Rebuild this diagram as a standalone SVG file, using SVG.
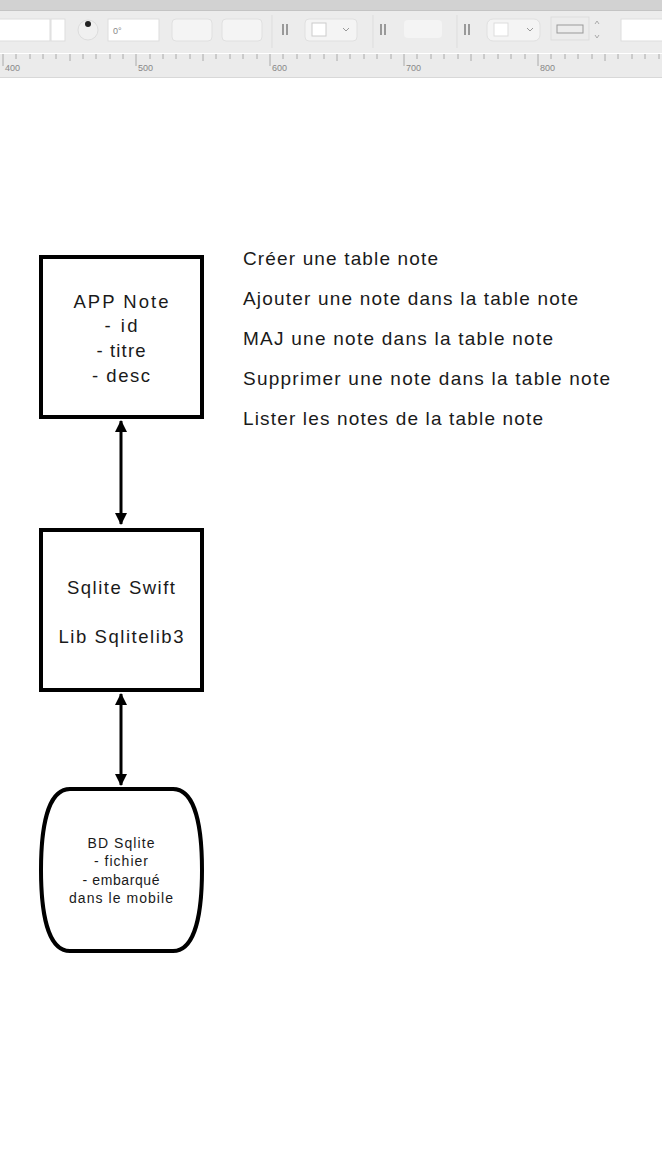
<svg xmlns="http://www.w3.org/2000/svg" width="662" height="1168" viewBox="0 0 662 1168">
<style>
.box{fill:#fff;stroke:#000;stroke-width:4}
.lbl{font-family:"Liberation Sans",Arial,sans-serif;fill:#1a1a1a;text-anchor:middle}
.side{font-family:"Liberation Sans",Arial,sans-serif;fill:#1a1a1a;font-size:19px}
.conn{stroke:#000;stroke-width:3;fill:none}
.field{fill:#fff;stroke:#ddd;stroke-width:1}
.btn{fill:#f4f4f4;stroke:#e0e0e0;stroke-width:1}
.ui{font-family:"Liberation Sans",Arial,sans-serif;fill:#888;font-size:9px}
</style>
<defs>
<marker id="ah" viewBox="0 0 12 16" refX="11" refY="6" markerWidth="12" markerHeight="16" markerUnits="userSpaceOnUse" orient="auto-start-reverse">
<path d="M0,0 L12,6 L0,12 Z" fill="#000"/>
</marker>
</defs>
<rect width="662" height="1168" fill="#fff"/>
<g id="toolbar">
<rect x="0" y="0" width="662" height="10" fill="#d2d2d2"/>
<rect x="0" y="10" width="662" height="43" fill="#ececec"/>
<line x1="0" y1="10.5" x2="662" y2="10.5" stroke="#c4c4c4"/>
<rect x="-2" y="19" width="52" height="22" class="field"/>
<rect x="51" y="19" width="14" height="22" class="field"/>
<circle cx="88" cy="30" r="10" fill="#f0f0f0" stroke="#ddd"/>
<circle cx="88" cy="24" r="3" fill="#222"/>
<rect x="108" y="19" width="51" height="22" class="field"/>
<text x="113" y="34" class="ui" font-size="10">0°</text>
<rect x="172" y="19" width="40" height="22" rx="4" class="btn"/>
<rect x="222" y="19" width="40" height="22" rx="4" class="btn"/>
<line x1="272" y1="15" x2="272" y2="48" stroke="#ddd"/>
<rect x="282" y="24" width="2" height="11" fill="#999"/><rect x="286" y="24" width="2" height="11" fill="#999"/>
<rect x="305" y="19" width="52" height="22" rx="4" class="btn"/>
<rect x="312" y="23" width="14" height="13" fill="#fff" stroke="#ccc"/>
<path d="M343,28 l3,3 l3,-3" stroke="#999" fill="none"/>
<line x1="373" y1="15" x2="373" y2="48" stroke="#ddd"/>
<rect x="380" y="24" width="2" height="11" fill="#999"/><rect x="384" y="24" width="2" height="11" fill="#999"/>
<rect x="404" y="20" width="38" height="18" rx="4" fill="#f4f4f4"/>
<line x1="457" y1="15" x2="457" y2="48" stroke="#ddd"/>
<rect x="464" y="24" width="2" height="11" fill="#999"/><rect x="468" y="24" width="2" height="11" fill="#999"/>
<rect x="487" y="19" width="53" height="22" rx="6" class="btn"/>
<rect x="494" y="23" width="14" height="13" fill="#fff" stroke="#ddd"/>
<path d="M527,28 l3,3 l3,-3" stroke="#999" fill="none"/>
<rect x="551" y="17" width="38" height="23" fill="#ececec" stroke="#ddd"/>
<rect x="557" y="25" width="26" height="8" fill="none" stroke="#999"/>
<path d="M595,24 l2,-3 l2,3 M595,35 l2,3 l2,-3" stroke="#aaa" fill="none"/>
<rect x="621" y="19" width="42" height="22" class="field"/>
</g>
<g id="ruler">
<rect x="0" y="53" width="662" height="25" fill="#ebebeb"/>
<line x1="0" y1="53.5" x2="662" y2="53.5" stroke="#fff" stroke-width="1"/>
<line x1="0" y1="77.5" x2="662" y2="77.5" stroke="#d8d8d8"/>
<path d="M3,54v12 M136,54v12 M270,54v12 M404,54v12 M538,54v12 M16,54v5 M30,54v5 M43,54v5 M56,54v5 M70,54v7 M83,54v5 M96,54v5 M110,54v5 M123,54v5 M150,54v5 M163,54v5 M176,54v5 M190,54v5 M203,54v7 M216,54v5 M230,54v5 M243,54v5 M257,54v5 M283,54v5 M297,54v5 M310,54v5 M324,54v5 M337,54v7 M350,54v5 M364,54v5 M377,54v5 M391,54v5 M417,54v5 M431,54v5 M444,54v5 M458,54v5 M471,54v7 M484,54v5 M498,54v5 M511,54v5 M525,54v5 M551,54v5 M565,54v5 M578,54v5 M592,54v5 M605,54v7 M618,54v5 M632,54v5 M645,54v5 M659,54v5" stroke="#aaa" stroke-width="1" fill="none"/>
<text x="5" y="71" class="ui">400</text>
<text x="138" y="71" class="ui">500</text>
<text x="272" y="71" class="ui">600</text>
<text x="406" y="71" class="ui">700</text>
<text x="540" y="71" class="ui">800</text>
</g>
<g id="connectors">
<line x1="121" y1="421" x2="121" y2="524" class="conn" marker-start="url(#ah)" marker-end="url(#ah)"/>
<line x1="121" y1="694" x2="121" y2="785" class="conn" marker-start="url(#ah)" marker-end="url(#ah)"/>
</g>
<g id="app-note">
<rect x="41" y="257" width="161" height="160" class="box"/>
<text class="lbl" font-size="18.5" x="121" y="308" textLength="95" lengthAdjust="spacing">APP Note</text>
<text class="lbl" font-size="18.5" x="121" y="332" textLength="33" lengthAdjust="spacing">- id</text>
<text class="lbl" font-size="18.5" x="121" y="357" textLength="49" lengthAdjust="spacing">- titre</text>
<text class="lbl" font-size="18.5" x="121" y="382" textLength="58" lengthAdjust="spacing">- desc</text>
</g>
<g id="sqlite-swift">
<rect x="41" y="530" width="161" height="160" class="box"/>
<text class="lbl" font-size="18.5" x="121" y="594" textLength="108" lengthAdjust="spacing">Sqlite Swift</text>
<text class="lbl" font-size="18.5" x="121" y="643" textLength="125" lengthAdjust="spacing">Lib Sqlitelib3</text>
</g>
<g id="bd-sqlite">
<path d="M70,789 H173 C196,789 202,830 202,870 C202,910 196,951 173,951 H70 C47,951 41,910 41,870 C41,830 47,789 70,789 Z" class="box"/>
<text class="lbl" font-size="14" x="121" y="848" textLength="67" lengthAdjust="spacing">BD Sqlite</text>
<text class="lbl" font-size="14" x="121" y="866" textLength="54" lengthAdjust="spacing">- fichier</text>
<text class="lbl" font-size="14" x="121" y="885" textLength="77" lengthAdjust="spacing">- embarqué</text>
<text class="lbl" font-size="14" x="121" y="903" textLength="104" lengthAdjust="spacing">dans le mobile</text>
</g>
<g id="operations">
<text class="side" x="243" y="265" textLength="195" lengthAdjust="spacing">Créer une table note</text>
<text class="side" x="243" y="305" textLength="335" lengthAdjust="spacing">Ajouter une note dans la table note</text>
<text class="side" x="243" y="345" textLength="310" lengthAdjust="spacing">MAJ une note dans la table note</text>
<text class="side" x="243" y="385" textLength="367" lengthAdjust="spacing">Supprimer une note dans la table note</text>
<text class="side" x="243" y="425" textLength="300" lengthAdjust="spacing">Lister les notes de la table note</text>
</g>
</svg>
